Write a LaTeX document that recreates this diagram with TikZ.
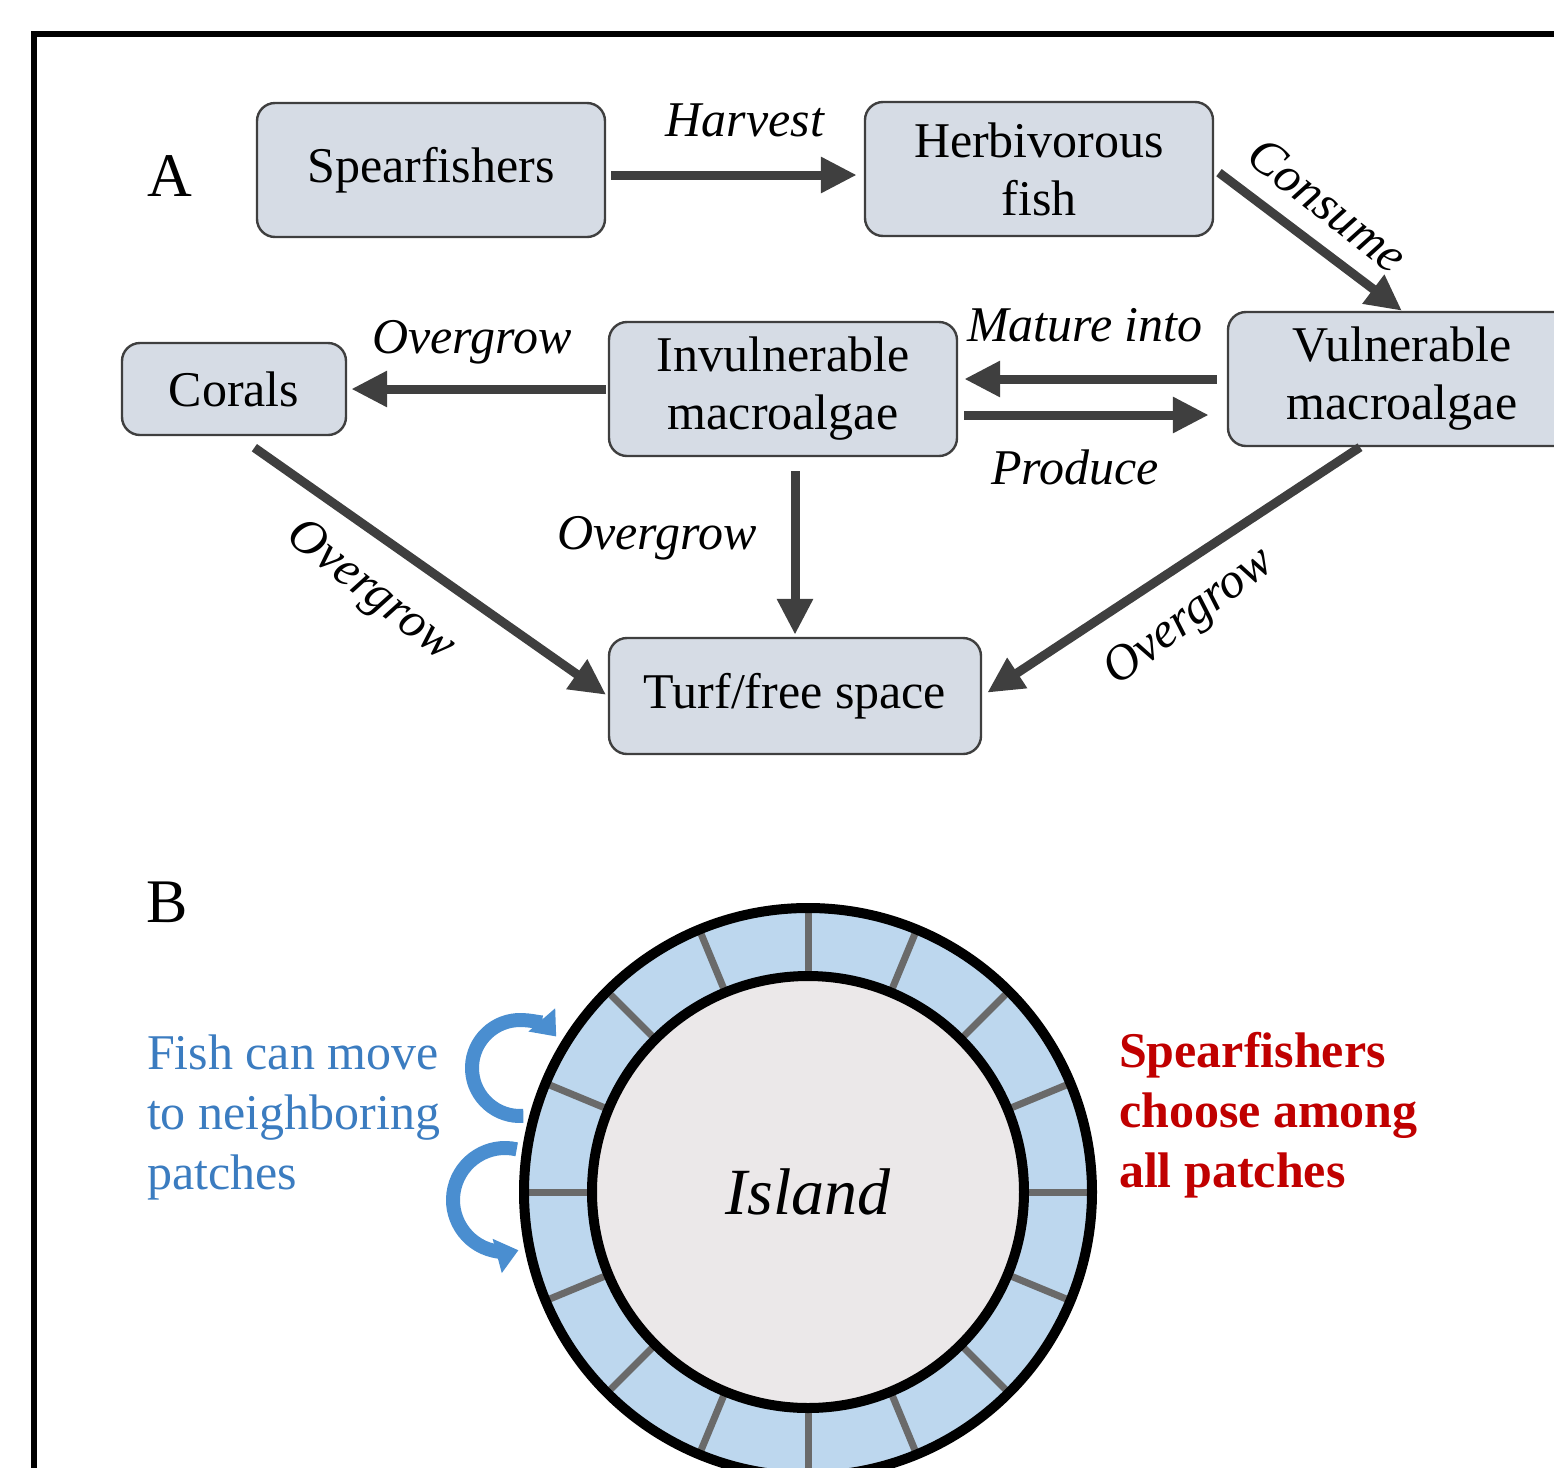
\documentclass[tikz,border=0pt]{standalone}
\usepackage{fontspec}
\setmainfont{Liberation Serif}
\usetikzlibrary{arrows.meta,calc}
\definecolor{boxgray}{HTML}{D6DCE5}
\definecolor{arrgray}{HTML}{3F3F3F}
\definecolor{ringblue}{HTML}{BDD7EE}
\definecolor{islgray}{HTML}{EBE8E9}
\definecolor{tickgray}{HTML}{6A6A6A}
\definecolor{fishblue}{HTML}{3B7CC0}
\definecolor{movblue}{HTML}{4A8ED0}
\definecolor{fisherred}{HTML}{C00000}
\tikzset{box/.style={draw=arrgray,line width=1.2pt,rounded corners=9pt,align=center,fill=boxgray,inner sep=2pt,minimum width=174pt,minimum height=67pt},
  arr/.style={-{Triangle[length=18pt,width=17pt]},line width=4.5pt,draw=arrgray},
  lbl/.style={font=\fontsize{25}{29}\selectfont\itshape},
  mov/.style={-{Triangle[length=11pt,width=17pt]},line width=7pt,draw=movblue}}

\begin{document}
\begin{tikzpicture}[x=0.5pt,y=-0.5pt,font=\fontsize{25}{29}\selectfont]
\clip (0,0) rectangle (1554,1468);
\draw[line width=3pt] (34,1500) |- (1600,34);
% panel A: food web
\node[font=\fontsize{31}{31}\selectfont] (pA) at (170,176) {A};
\node[box] (sf) at (431,170) {Spearfishers};
\node[box] (hf) at (1039,169) {Herbivorous\\fish};
\node[box,minimum width=112pt,minimum height=46pt] (cor) at (234,389) {Corals};
\node[box] (inv) at (783,389) {Invulnerable\\macroalgae};
\node[box] (vul) at (1402,379) {Vulnerable\\macroalgae};
\node[box,minimum width=186pt,minimum height=58pt] (turf) at (795,696) {Turf/free space};
\draw[arr,shorten <=2.5pt,shorten >=3.5pt] ([yshift=-2.5pt]sf.east) -- ([yshift=-2.5pt]sf.east -| hf.west);
\draw[arr,shorten <=3pt] (hf.east) -- (vul.north);
\draw[arr,shorten <=5pt,shorten >=3pt] (vul.west) -- (vul.west -| inv.east);
\draw[arr,shorten <=3pt,shorten >=9pt] ([yshift=-13pt]inv.east) -- ([yshift=-13pt]inv.east -| vul.west);
\draw[arr,shorten <=1pt,shorten >=2pt] (inv.west) -- (inv.west -| cor.east);
\draw[arr,shorten <=7pt,shorten >=1pt] (turf.north |- inv.south) -- (turf.north);
\draw[arr,shorten <=10pt,shorten >=1pt] ([xshift=2pt]cor.south) -- (turf.west);
\draw[arr,shorten >=3pt] ([xshift=-21pt]vul.south) -- (turf.east);
\node[lbl] (harvest) at (745,120) {Harvest};
\node[lbl,rotate=-38] (consume) at (1328,205) {Consume};
\node[lbl] (mature) at (1085,325) {Mature into};
\node[lbl] (produce) at (1075,467) {Produce};
\node[lbl] (og1) at (472,342) {Overgrow};
\node[lbl] (og2) at (657,538) {Overgrow};
\node[lbl,rotate=-38] (og3) at (370,592) {Overgrow};
\node[lbl,rotate=37] (og4) at (1190,618) {Overgrow};
% panel B: island with patches
\node[font=\fontsize{31}{31}\selectfont] (pB) at (167,902) {B};
\coordinate (isl) at (808,1192);
\fill[ringblue] (isl) circle[radius=284];
\foreach \a in {0,22.5,...,337.5}{\draw[tickgray,line width=3.5pt] ($(isl)+(\a:216)$) -- ($(isl)+(\a:284)$);}
\draw[line width=5pt,fill=islgray] (isl) circle[radius=216];
\draw[line width=5pt] (isl) circle[radius=284];
\node[font=\fontsize{33}{33}\selectfont\itshape] (island) at (isl) {Island};
\draw[mov] (520,1068) ++(86:48) arc[start angle=86,end angle=319,radius=48];
\draw[mov] (505,1200) ++(283:52) arc[start angle=283,end angle=75,radius=52];
\node[align=left,anchor=west,text=fishblue,font=\fontsize{25}{30}\selectfont] (fishtxt) at (140,1117) {Fish can move\\to neighboring\\patches};
\node[align=left,anchor=west,text=fisherred,font=\fontsize{25}{30}\selectfont\bfseries] (fishertxt) at (1112,1115) {Spearfishers\\choose among\\all patches};
\end{tikzpicture}
\end{document}
